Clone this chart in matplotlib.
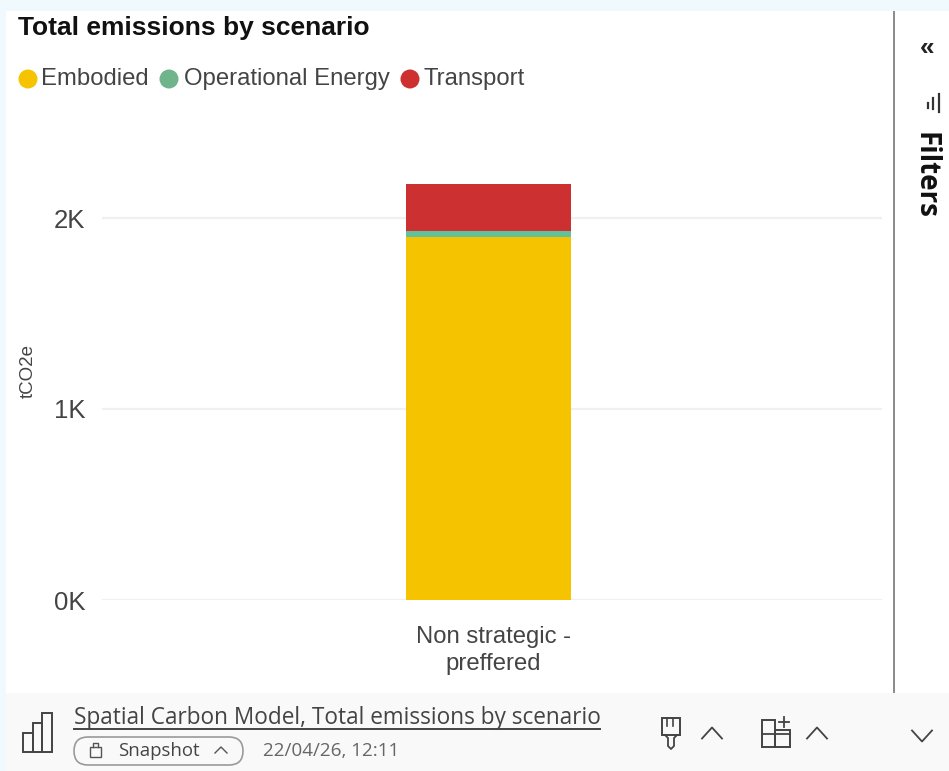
import matplotlib
matplotlib.use("Agg")
import matplotlib.pyplot as plt
from matplotlib.patches import Rectangle, Circle, FancyBboxPatch

# Data
scenarios = ["Non strategic -\npreffered"]
embodied = [1900]
operational = [30]
transport = [248]
y_ticks = [0, 1000, 2000]
y_labels = ["0K", "1K", "2K"]
legend_names = ["Embodied", "Operational Energy", "Transport"]
legend_colors = ["#f6c300", "#70b48c", "#cc3030"]

W, H = 949, 771
plt.rcParams["font.family"] = ["Liberation Sans", "DejaVu Sans"]

fig = plt.figure(figsize=(W / 100, H / 100), dpi=100, facecolor="#f0f9fe")

# overlay in pixel coordinates for the report chrome
bg = fig.add_axes([0, 0, 1, 1], zorder=0)
bg.set_xlim(0, W)
bg.set_ylim(H, 0)
bg.axis("off")
bg.add_patch(Rectangle((6, 11), W - 6, 682, fc="white", ec="none"))
bg.add_patch(Rectangle((6, 693), W - 6, 78, fc="#f9f9f9", ec="none"))

# chart axes: 0K at y=600, 2K at y=218
x0, x1 = 102, 882
bar_px = 165
bar_centre = 488.5
px_per_k = 191
y_bottom, y_top = 600, 130
ax = fig.add_axes([x0 / W, 1 - y_bottom / H, (x1 - x0) / W, (y_bottom - y_top) / H], zorder=1)
ax.patch.set_alpha(0)
ax.set_xlim(-(bar_centre - x0) / bar_px, (x1 - bar_centre) / bar_px)
ax.set_ylim(0, (y_bottom - y_top) / px_per_k * 1000)

pos = range(len(scenarios))
bottom_op = [a for a in embodied]
bottom_tr = [a + b for a, b in zip(embodied, operational)]
ax.bar(pos, embodied, width=1, color=legend_colors[0], zorder=3)
ax.bar(pos, operational, width=1, bottom=bottom_op, color="#62c09a", zorder=3)
ax.bar(pos, transport, width=1, bottom=bottom_tr, color=legend_colors[2], zorder=3)

ax.set_yticks(y_ticks)
ax.set_yticklabels(y_labels, fontsize=18.5, color="#444444")
ax.set_xticks([])
for p, name in zip(pos, scenarios):
    ax.annotate(name, (p, 0), xytext=(3.3, -18.5), textcoords="offset points", ha="center", va="top",
                fontsize=17.2, color="#444444", linespacing=1.3, annotation_clip=False)
ax.grid(axis="y", color="#f0f0f0", lw=1.6, zorder=0)
ax.tick_params(axis="y", length=0, pad=12)
for s in ax.spines.values():
    s.set_visible(False)

# title, legend, axis title
top = fig.add_axes([0, 0, 1, 1], zorder=2)
top.set_xlim(0, W)
top.set_ylim(H, 0)
top.axis("off")
top.text(18, 28, "Total emissions by scenario", fontsize=19, fontweight="bold",
         color="#111111", va="center")
top.text(28, 371, "tCO2e", fontsize=13.5, rotation=90, color="#444444", ha="center", va="center")
for cx, tx, name, c in zip([28, 169, 410], [41, 184, 424], legend_names, legend_colors):
    top.add_patch(Circle((cx, 79), 9.5, fc=c, ec="none"))
    top.text(tx, 79, name, fontsize=17.2, color="#444444", va="center")

# filters pane
top.plot([894.5, 894.5], [12, 692], color="#8a8a8a", lw=1.4)
top.text(927, 48, "«", fontsize=19, fontweight="bold", color="#222222", ha="center", va="center")
for x, y_a, y_b in [(928, 103, 108), (933.5, 98, 109), (939.5, 94, 112)]:
    top.plot([x, x], [y_a, y_b], color="#333333", lw=1.6)
top.text(925, 175, "Filters", fontsize=20, fontweight="bold", rotation=-90, color="#111111",
         family=["Open Sans", "DejaVu Sans"], ha="center", va="center")

# footer
foot = ["Open Sans", "DejaVu Sans"]
top.text(74, 718, "Spatial Carbon Model, Total emissions by scenario", fontsize=16.3, color="#444444",
         family=foot, va="center")
top.plot([74, 600], [728.5, 728.5], color="#444444", lw=1.4)
top.add_patch(FancyBboxPatch((74, 737), 169, 28, boxstyle="round,pad=0,rounding_size=14",
                             fc="none", ec="#9a9a9a", lw=1.2))
top.text(118, 751, "Snapshot", fontsize=13.4, color="#444444", family=foot, va="center")
top.text(263, 751, "22/04/26, 12:11", fontsize=13.6, color="#666666", family=foot, va="center")

# lock icon
top.add_patch(Rectangle((90, 747), 11, 10, fc="none", ec="#555555", lw=1))
top.plot([93, 93, 98, 98], [747, 743, 743, 747], color="#555555", lw=1)
# bars icon
for x, y, w, h in [(23, 733, 10, 19), (33, 723, 9, 29), (42, 713, 10, 39)]:
    top.add_patch(Rectangle((x, y), w, h, fc="none", ec="#444444", lw=1.4))
# brush icon
top.add_patch(Rectangle((662, 718), 18, 17, fc="none", ec="#444444", lw=1.4))
top.plot([667, 667], [718, 726], color="#444444", lw=1.2)
top.plot([673, 673], [718, 726], color="#444444", lw=1.2)
top.plot([665, 668, 668, 671, 674, 674, 677], [735, 738, 746, 749, 746, 738, 735], color="#444444", lw=1.3)
# layout icon
top.add_patch(Rectangle((762, 720), 13, 27, fc="none", ec="#444444", lw=1.4))
top.add_patch(Rectangle((775, 730), 15, 17, fc="none", ec="#444444", lw=1.4))
top.plot([762, 790], [734, 734], color="#444444", lw=1.3)
top.plot([784, 784], [717, 727], color="#444444", lw=1.3)
top.plot([779, 789], [722, 722], color="#444444", lw=1.3)


def chevron(cx, cy, half, rise, up=True, color="#444444", lw=1.3):
    d = -rise if up else rise
    top.plot([cx - half, cx, cx + half], [cy - d / 2, cy + d / 2, cy - d / 2], color=color, lw=lw)


chevron(712, 733, 10, 11)
chevron(817, 733, 10, 11)
chevron(922, 736, 10, 11, up=False)
chevron(221, 750, 6, 6, color="#555555", lw=1)

fig.savefig("out.png", dpi=100, facecolor=fig.get_facecolor())
